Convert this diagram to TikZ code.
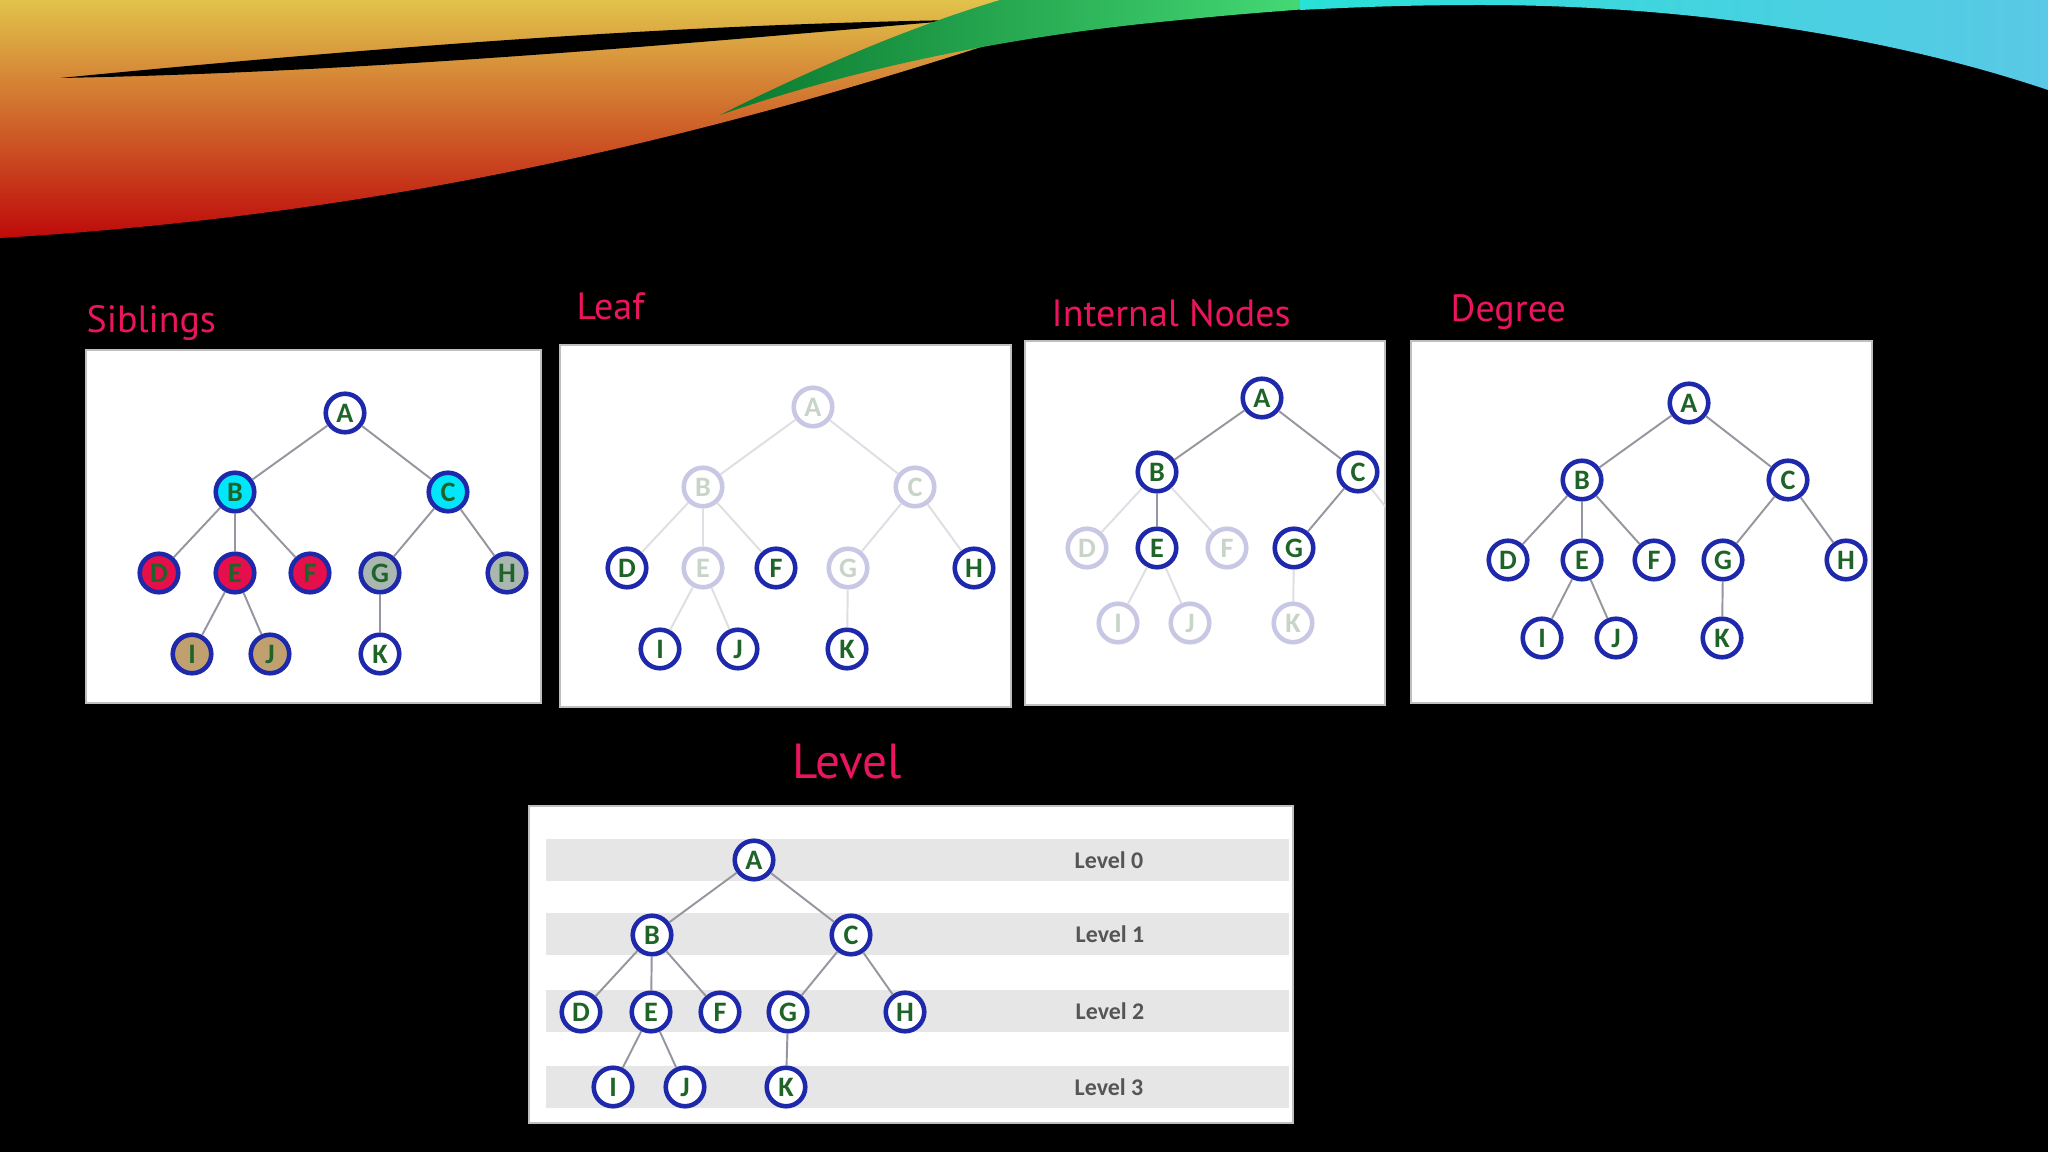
\documentclass[tikz,border=0pt]{standalone}
\usepackage{fontspec}
\setmainfont{Carlito}
\newfontfamily\headfont{PT Sans}
\usepackage{xcolor}
\usepackage{tikz}
\definecolor{treeblue}{RGB}{30,40,170}
\definecolor{treegreen}{RGB}{30,100,40}
\definecolor{edgegray}{RGB}{150,150,160}
\definecolor{paleblue}{RGB}{200,200,228}
\definecolor{palegreen}{RGB}{200,212,200}
\definecolor{paleedge}{RGB}{222,222,228}
\definecolor{headpink}{RGB}{235,20,95}
\definecolor{sibcyan}{RGB}{0,230,250}
\definecolor{sibred}{RGB}{230,15,75}
\definecolor{sibgray}{RGB}{170,182,176}
\definecolor{sibtan}{RGB}{192,160,110}
\definecolor{bandgray}{RGB}{230,230,230}
\definecolor{labelgray}{RGB}{85,85,85}
\definecolor{swyellow}{RGB}{225,195,75}
\definecolor{sworange}{RGB}{230,110,25}
\definecolor{swred}{RGB}{190,10,10}
\definecolor{swgreen}{RGB}{10,120,45}
\definecolor{swlime}{RGB}{70,220,120}
\definecolor{swcyan}{RGB}{40,225,215}
\definecolor{swsky}{RGB}{90,200,230}
\tikzset{
vert/.style = { circle, draw = treeblue, line width = 1.3pt, fill = white, minimum size = 3.85mm, inner sep = 0pt, text = treegreen, font = \bfseries\fontsize{8}{9}\selectfont },
pale vert/.style = { vert, draw = paleblue, text = palegreen },
link/.style = { draw = edgegray, line width = 0.55pt },
pale link/.style = { draw = paleedge, line width = 0.55pt },
panel/.style = { fill = white, draw = black!25, line width = 0.3pt },
heading/.style = { anchor = base west, text = headpink, inner sep = 0pt, font = \headfont\fontsize{10.8}{13}\selectfont },
band/.style = { fill = bandgray, draw = none },
level label/.style = { text = labelgray, font = \bfseries\fontsize{6.8}{8}\selectfont }
}

\begin{document}
\begin{tikzpicture}[x = 0.01cm, y = -0.01cm]
    \useasboundingbox (0, 0) rectangle (2048, 1152);
    \fill[black] (0, 0) rectangle (2048, 1152);
    % swoosh across the top
    \shade[top color = swyellow, middle color = sworange, bottom color = swred] (0, 0) -- (1100, 0) -- (1024, 33) .. controls (700, 140) and (380, 215) .. (0, 238) -- cycle;
    \fill[black] (60, 78) .. controls (350, 50) and (650, 25) .. (960, 20) .. controls (700, 42) and (380, 72) .. (60, 78) -- cycle;
    \shade[left color = swgreen, right color = swlime] (720, 115) .. controls (850, 70) and (1000, 38) .. (1160, 22) .. controls (1230, 15) .. (1320, 8) -- (1320, 0) -- (1000, 0) .. controls (900, 30) and (800, 75) .. (720, 115) -- cycle;
    \shade[left color = swcyan, right color = swsky] (1300, 0) -- (2048, 0) -- (2048, 90) .. controls (1900, 40) and (1700, 5) .. (1480, 5) .. controls (1400, 5) and (1340, 8) .. (1300, 10) -- cycle;

    % panels
    \path[panel] (86, 350) rectangle (541, 703);
    \path[panel] (560, 345) rectangle (1011, 707);
    \path[panel] (1025, 341) rectangle (1385, 705);
    \path[panel] (1411, 341) rectangle (1872, 703);
    \path[panel] (529, 806) rectangle (1293, 1123);

    \node[heading] (tsib) at (86, 333) {Siblings};
    \node[heading] (tleaf) at (576, 320) {Leaf};
    \node[heading] (tint) at (1051, 327) {Internal Nodes};
    \node[heading] (tdeg) at (1450, 322) {Degree};
    \node[heading, font = \headfont\fontsize{14}{16}\selectfont] (tlev) at (792, 778) {Level};

    % siblings
    \node[vert] (sA) at (345, 413) {A};
    \node[vert, fill = sibcyan] (sB) at (235, 492) {B};
    \node[vert, fill = sibcyan] (sC) at (448, 492) {C};
    \node[vert, fill = sibred] (sD) at (159, 573) {D};
    \node[vert, fill = sibred] (sE) at (235, 573) {E};
    \node[vert, fill = sibred] (sF) at (310, 573) {F};
    \node[vert, fill = sibgray] (sG) at (380, 573) {G};
    \node[vert, fill = sibgray] (sH) at (507, 573) {H};
    \node[vert, fill = sibtan] (sI) at (192, 654) {I};
    \node[vert, fill = sibtan] (sJ) at (270, 654) {J};
    \node[vert] (sK) at (380, 654) {K};
    \foreach \p/\c in {A/B, A/C, B/D, B/E, B/F, C/G, C/H, E/I, E/J, G/K}
        \draw[link] (s\p) -- (s\c);

    % leaf
    \node[pale vert] (lA) at (813, 407) {A};
    \node[pale vert] (lB) at (703, 487) {B};
    \node[pale vert] (lC) at (915, 487) {C};
    \node[vert] (lD) at (627, 568) {D};
    \node[pale vert] (lE) at (703, 568) {E};
    \node[vert] (lF) at (776, 568) {F};
    \node[pale vert] (lG) at (848, 568) {G};
    \node[vert] (lH) at (974, 568) {H};
    \node[vert] (lI) at (660, 649) {I};
    \node[vert] (lJ) at (738, 649) {J};
    \node[vert] (lK) at (847, 649) {K};
    \foreach \p/\c in {A/B, A/C, B/D, B/E, B/F, C/G, C/H, E/I, E/J, G/K}
        \draw[pale link] (l\p) -- (l\c);

    % internal nodes
    \node[vert] (iA) at (1262, 398) {A};
    \node[vert] (iB) at (1157, 472) {B};
    \node[vert] (iC) at (1358, 472) {C};
    \node[pale vert] (iD) at (1087, 548) {D};
    \node[vert] (iE) at (1157, 548) {E};
    \node[pale vert] (iF) at (1227, 548) {F};
    \node[vert] (iG) at (1294, 548) {G};
    \node[pale vert] (iI) at (1118, 623) {I};
    \node[pale vert] (iJ) at (1190, 623) {J};
    \node[pale vert] (iK) at (1293, 623) {K};
    \coordinate (iH) at (1418, 548);
    \foreach \p/\c in {A/B, A/C, B/E, C/G}
        \draw[link] (i\p) -- (i\c);
    \foreach \p/\c in {B/D, B/F, E/I, E/J, G/K}
        \draw[pale link] (i\p) -- (i\c);
    \begin{scope}
        \clip (1025, 341) rectangle (1385, 705);
        \draw[pale link] (iC) -- (iH);
    \end{scope}

    % degree
    \node[vert] (dA) at (1689, 403) {A};
    \node[vert] (dB) at (1582, 480) {B};
    \node[vert] (dC) at (1788, 480) {C};
    \node[vert] (dD) at (1508, 560) {D};
    \node[vert] (dE) at (1582, 560) {E};
    \node[vert] (dF) at (1654, 560) {F};
    \node[vert] (dG) at (1723, 560) {G};
    \node[vert] (dH) at (1846, 560) {H};
    \node[vert] (dI) at (1542, 638) {I};
    \node[vert] (dJ) at (1616, 638) {J};
    \node[vert] (dK) at (1722, 638) {K};
    \foreach \p/\c in {A/B, A/C, B/D, B/E, B/F, C/G, C/H, E/I, E/J, G/K}
        \draw[link] (d\p) -- (d\c);

    % level
    \fill[band] (546, 839) rectangle (1289, 881);
    \fill[band] (546, 913) rectangle (1289, 955);
    \fill[band] (546, 990) rectangle (1289, 1032);
    \fill[band] (546, 1066) rectangle (1289, 1108);
    \node[level label] (lv0) at (1109, 860) {Level 0};
    \node[level label] (lv1) at (1110, 934) {Level 1};
    \node[level label] (lv2) at (1110, 1011) {Level 2};
    \node[level label] (lv3) at (1109, 1087) {Level 3};
    \node[vert] (vA) at (754, 860) {A};
    \node[vert] (vB) at (652, 935) {B};
    \node[vert] (vC) at (851, 935) {C};
    \node[vert] (vD) at (581, 1012) {D};
    \node[vert] (vE) at (651, 1012) {E};
    \node[vert] (vF) at (720, 1012) {F};
    \node[vert] (vG) at (788, 1012) {G};
    \node[vert] (vH) at (905, 1012) {H};
    \node[vert] (vI) at (613, 1087) {I};
    \node[vert] (vJ) at (685, 1087) {J};
    \node[vert] (vK) at (786, 1087) {K};
    \foreach \p/\c in {A/B, A/C, B/D, B/E, B/F, C/G, C/H, E/I, E/J, G/K}
        \draw[link] (v\p) -- (v\c);
\end{tikzpicture}
\end{document}
